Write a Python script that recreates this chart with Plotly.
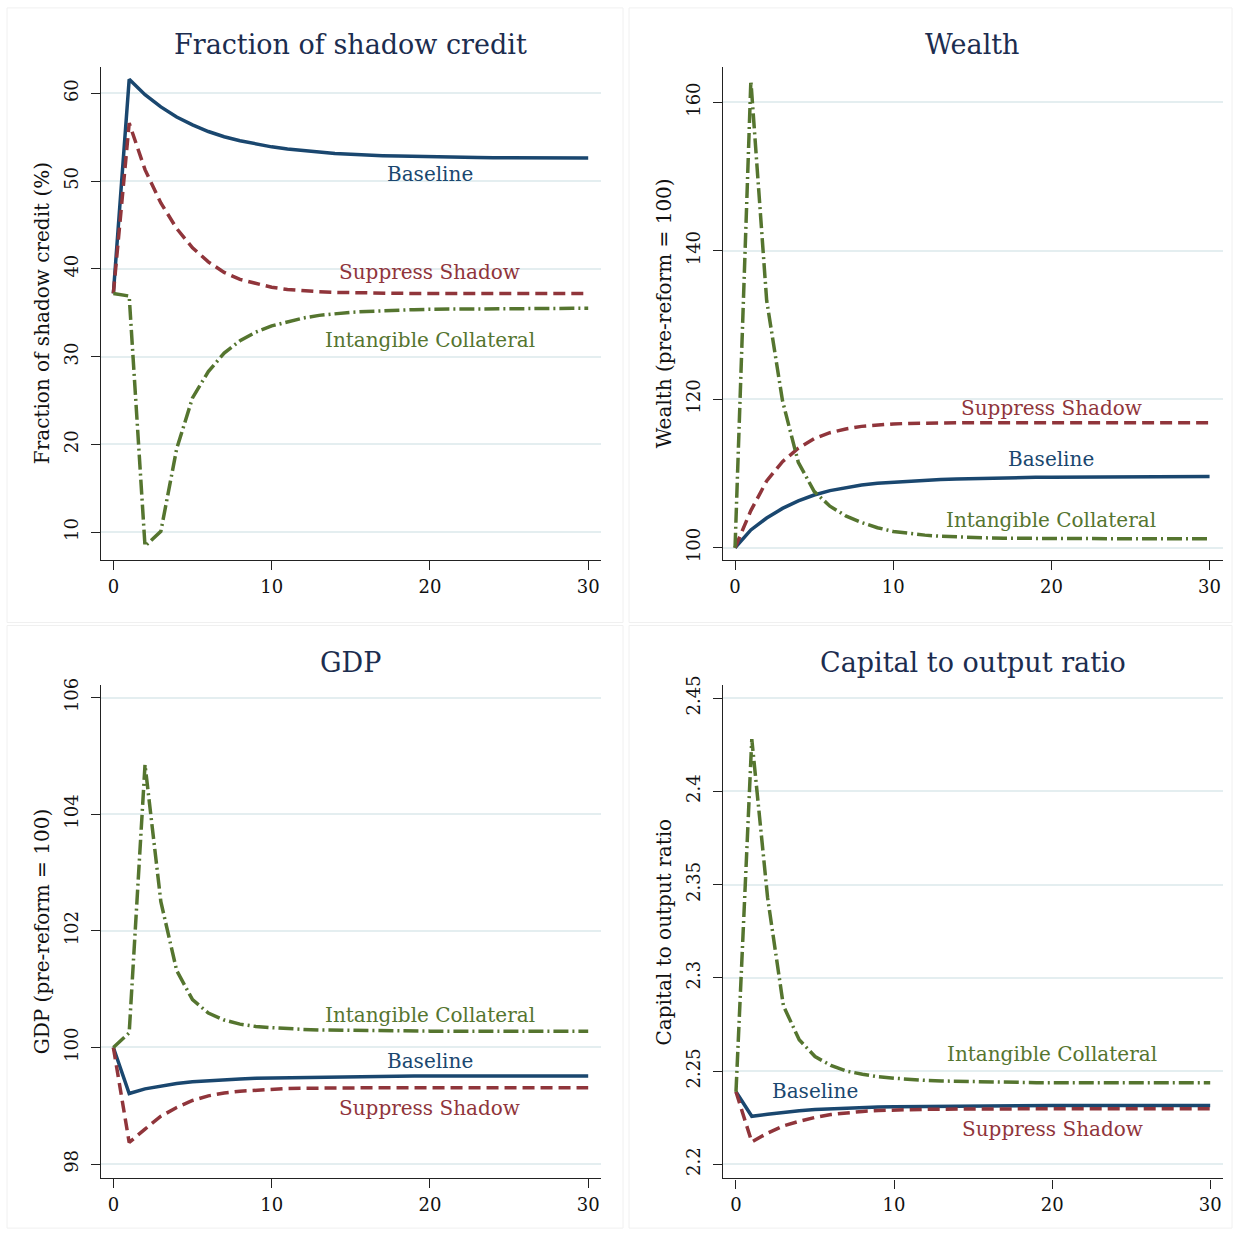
import plotly.graph_objects as go

# ---------------- data ----------------
periods = list(range(31))

series_names = ["Baseline", "Suppress Shadow", "Intangible Collateral"]

# Panel 1: Fraction of shadow credit (%)
frac_baseline = [37.2, 61.6, 59.85, 58.45, 57.3, 56.4, 55.65, 55.05, 54.6, 54.2, 53.9,
                 53.65, 53.45, 53.3, 53.15, 53.05, 52.95, 52.9, 52.85, 52.8, 52.75,
                 52.72, 52.7, 52.68, 52.67, 52.66, 52.65, 52.64, 52.63, 52.63, 52.62]
frac_suppress = [37.2, 56.6, 51.3, 47.5, 44.6, 42.4, 40.8, 39.6, 38.8, 38.3, 37.9,
                 37.65, 37.5, 37.4, 37.32, 37.27, 37.24, 37.22, 37.21, 37.2, 37.2,
                 37.2, 37.2, 37.2, 37.2, 37.2, 37.2, 37.2, 37.2, 37.2, 37.2]
frac_intangible = [37.2, 36.9, 8.4, 10.1, 19.5, 25.3, 28.3, 30.4, 31.8, 32.8, 33.5,
                   34.0, 34.4, 34.7, 34.9, 35.05, 35.15, 35.25, 35.3, 35.35, 35.4,
                   35.42, 35.44, 35.46, 35.47, 35.48, 35.49, 35.5, 35.5, 35.5, 35.5]

# Panel 2: Wealth (pre-reform = 100)
wealth_baseline = [100, 102.4, 104.0, 105.3, 106.3, 107.1, 107.7, 108.1, 108.45, 108.7, 108.85,
                   109.0, 109.1, 109.2, 109.27, 109.33, 109.38, 109.42, 109.46, 109.49, 109.51,
                   109.53, 109.55, 109.56, 109.57, 109.58, 109.59, 109.6, 109.6, 109.6, 109.6]
wealth_suppress = [100, 105.0, 109.0, 111.6, 113.4, 114.7, 115.5, 116.0, 116.35, 116.55, 116.68,
                   116.75, 116.8, 116.82, 116.84, 116.85, 116.85, 116.85, 116.85, 116.85, 116.85,
                   116.85, 116.85, 116.85, 116.85, 116.85, 116.85, 116.85, 116.85, 116.85, 116.85]
wealth_intangible = [100, 162.9, 133.3, 119.8, 111.5, 107.6, 105.6, 104.3, 103.4, 102.7, 102.2,
                     101.9, 101.7, 101.55, 101.44, 101.37, 101.32, 101.28, 101.26, 101.24, 101.23,
                     101.22, 101.21, 101.21, 101.2, 101.2, 101.2, 101.2, 101.2, 101.2, 101.2]

# Panel 3: GDP (pre-reform = 100)
gdp_baseline = [100, 99.21, 99.29, 99.34, 99.38, 99.41, 99.43, 99.445, 99.46, 99.47, 99.475,
                99.48, 99.485, 99.49, 99.495, 99.5, 99.5, 99.505, 99.505, 99.51, 99.51,
                99.51, 99.51, 99.51, 99.51, 99.51, 99.51, 99.51, 99.51, 99.51, 99.51]
gdp_suppress = [100, 98.37, 98.6, 98.82, 98.97, 99.09, 99.17, 99.22, 99.25, 99.27, 99.285,
                99.295, 99.3, 99.305, 99.305, 99.31, 99.31, 99.31, 99.31, 99.31, 99.31,
                99.31, 99.31, 99.31, 99.31, 99.31, 99.31, 99.31, 99.31, 99.31, 99.31]
gdp_intangible = [100, 100.25, 104.85, 102.5, 101.32, 100.82, 100.59, 100.47, 100.4, 100.36, 100.34,
                  100.32, 100.31, 100.3, 100.295, 100.29, 100.29, 100.285, 100.285, 100.28, 100.28,
                  100.28, 100.28, 100.28, 100.28, 100.28, 100.28, 100.28, 100.28, 100.28, 100.28]

# Panel 4: Capital to output ratio
ky_baseline = [2.2389, 2.2258, 2.2269, 2.228, 2.2288, 2.2294, 2.2298, 2.2302, 2.2305, 2.2307, 2.2309,
               2.231, 2.2311, 2.2312, 2.2313, 2.2313, 2.2314, 2.2314, 2.2314, 2.2315, 2.2315,
               2.2315, 2.2315, 2.2315, 2.2315, 2.2315, 2.2315, 2.2315, 2.2315, 2.2315, 2.2315]
ky_suppress = [2.2389, 2.212, 2.2168, 2.2206, 2.2231, 2.2252, 2.2267, 2.2277, 2.2284, 2.2289, 2.2292,
               2.2294, 2.2295, 2.2296, 2.2297, 2.2297, 2.2298, 2.2298, 2.2298, 2.2298, 2.2298,
               2.2298, 2.2298, 2.2298, 2.2298, 2.2298, 2.2298, 2.2298, 2.2298, 2.2298, 2.2298]
ky_intangible = [2.2389, 2.428, 2.343, 2.285, 2.2668, 2.2578, 2.253, 2.25, 2.2483, 2.247, 2.2462,
                 2.2455, 2.245, 2.2447, 2.2445, 2.2443, 2.2441, 2.244, 2.2439, 2.2438, 2.2438,
                 2.2437, 2.2437, 2.2437, 2.2437, 2.2437, 2.2437, 2.2437, 2.2437, 2.2437, 2.2437]

panel_titles = ["Fraction of shadow credit", "Wealth", "GDP", "Capital to output ratio"]
y_titles = ["Fraction of shadow credit (%)", "Wealth (pre-reform = 100)",
            "GDP (pre-reform = 100)", "Capital to output ratio"]
x_tickvals = [0, 10, 20, 30]
y_tickvals = [[10, 20, 30, 40, 50, 60], [100, 120, 140, 160],
              [98, 100, 102, 104, 106], [2.2, 2.25, 2.3, 2.35, 2.4, 2.45]]
y_ticktext = [["10", "20", "30", "40", "50", "60"], ["100", "120", "140", "160"],
              ["98", "100", "102", "104", "106"], ["2.2", "2.25", "2.3", "2.35", "2.4", "2.45"]]

# label placement (x, y in data units) for each panel: [baseline, suppress, intangible]
label_pos = [
    [(20, 50.8), (20, 39.6), (20, 31.9)],
    [(20, 111.9), (20, 118.8), (20, 103.8)],
    [(20, 99.77), (20, 98.97), (20, 100.56)],
    [(5, 2.2393), (20, 2.2189), (20, 2.2592)],
]

# ---------------- style ----------------
W, H = 1239, 1235
FONT = "DejaVu Serif"
colors = ["#1a476f", "#90353b", "#55752f"]
dashes = ["solid", "12px,6px", "15px,4px,2px,4px"]
title_color = "#1c2d4f"
grid_color = "#e4eef0"

# vertical calibration of the rendered page (observed = A + B * set)
A_OFF, B_SCALE = 11.1, 0.9893

def px_x(p):
    return p / W

def px_y(p):
    return 1 - ((p - A_OFF) / B_SCALE) / H

# plot-area pixel boxes: (left, right, top, bottom)
boxes = [(100.7, 600.7, 68.3, 560.7), (722.7, 1222.7, 68.3, 560.7),
         (100.7, 600.7, 685.8, 1178.0), (722.7, 1222.7, 685.8, 1178.3)]
x_ranges = [[-0.80, 30.79], [-0.78, 30.83], [-0.80, 30.79], [-0.84, 30.79]]
y_ranges = [[6.81, 62.97], [98.33, 164.72], [97.76, 106.21], [2.1925, 2.4568]]
ytitle_x = [41.5, 663.6, 41.5, 663.6]
panel_frames = [(7, 623, 9, 623), (629, 1232, 9, 623), (7, 623, 626, 1228), (629, 1232, 626, 1228)]

data = [
    [frac_baseline, frac_suppress, frac_intangible],
    [wealth_baseline, wealth_suppress, wealth_intangible],
    [gdp_baseline, gdp_suppress, gdp_intangible],
    [ky_baseline, ky_suppress, ky_intangible],
]

fig = go.Figure()
annotations = []
shapes = []
layout_axes = {}

for i in range(4):
    n = "" if i == 0 else str(i + 1)
    xa, ya = "x" + n, "y" + n
    l, r, t, b = boxes[i]
    layout_axes["xaxis" + n] = dict(
        domain=[px_x(l), px_x(r)], range=x_ranges[i], anchor=ya,
        tickvals=x_tickvals, ticks="outside", ticklen=9, tickwidth=1.3, tickcolor="#222",
        showline=True, linecolor="#222", linewidth=1.3, showgrid=False, zeroline=False,
        tickfont=dict(family=FONT, size=18, color="#111"), ticklabelstandoff=1,
    )
    layout_axes["yaxis" + n] = dict(
        domain=[px_y(b), px_y(t)], range=y_ranges[i], anchor=xa,
        tickvals=y_tickvals[i], ticktext=y_ticktext[i], tickangle=-90,
        ticks="outside", ticklen=9, tickwidth=1.3, tickcolor="#222",
        showline=True, linecolor="#222", linewidth=1.3,
        showgrid=True, gridcolor=grid_color, gridwidth=1.5, zeroline=False,
        tickfont=dict(family=FONT, size=18, color="#111"), ticklabelstandoff=5,
    )
    for k in range(3):
        fig.add_trace(go.Scatter(
            x=periods, y=data[i][k], mode="lines", xaxis=xa, yaxis=ya,
            line=dict(color=colors[k], width=3.5, dash=dashes[k]),
            showlegend=False, name=series_names[k],
        ))
        lx, ly = label_pos[i][k]
        annotations.append(dict(
            x=lx, y=ly, xref=xa, yref=ya, text=series_names[k], showarrow=False,
            font=dict(family=FONT, size=20, color=colors[k]), xanchor="center", yanchor="middle",
        ))
    # panel title
    annotations.append(dict(
        x=px_x((l + r) / 2), y=px_y(t - 22.8), xref="paper", yref="paper",
        text=panel_titles[i], showarrow=False, xanchor="center", yanchor="middle",
        font=dict(family=FONT, size=27, color=title_color),
    ))
    # y-axis title
    annotations.append(dict(
        x=px_x(ytitle_x[i]), y=px_y((t + b) / 2), xref="paper", yref="paper",
        text=y_titles[i], showarrow=False, textangle=-90, xanchor="center", yanchor="middle",
        font=dict(family=FONT, size=20, color="#111"),
    ))
    fl, fr, ft, fb = panel_frames[i]
    shapes.append(dict(
        type="rect", xref="paper", yref="paper",
        x0=px_x(fl), x1=px_x(fr), y0=px_y(fb), y1=px_y(ft),
        line=dict(color="#f0f0f0", width=1), fillcolor="rgba(0,0,0,0)", layer="below",
    ))

fig.update_layout(
    width=W, height=H, margin=dict(l=0, r=0, t=0, b=0),
    paper_bgcolor="white", plot_bgcolor="white",
    annotations=annotations, shapes=shapes, showlegend=False,
    **layout_axes,
)

fig.write_html("out.html", config={"displayModeBar": False},
               post_script="document.body.style.margin='0';document.body.style.padding='0';")
